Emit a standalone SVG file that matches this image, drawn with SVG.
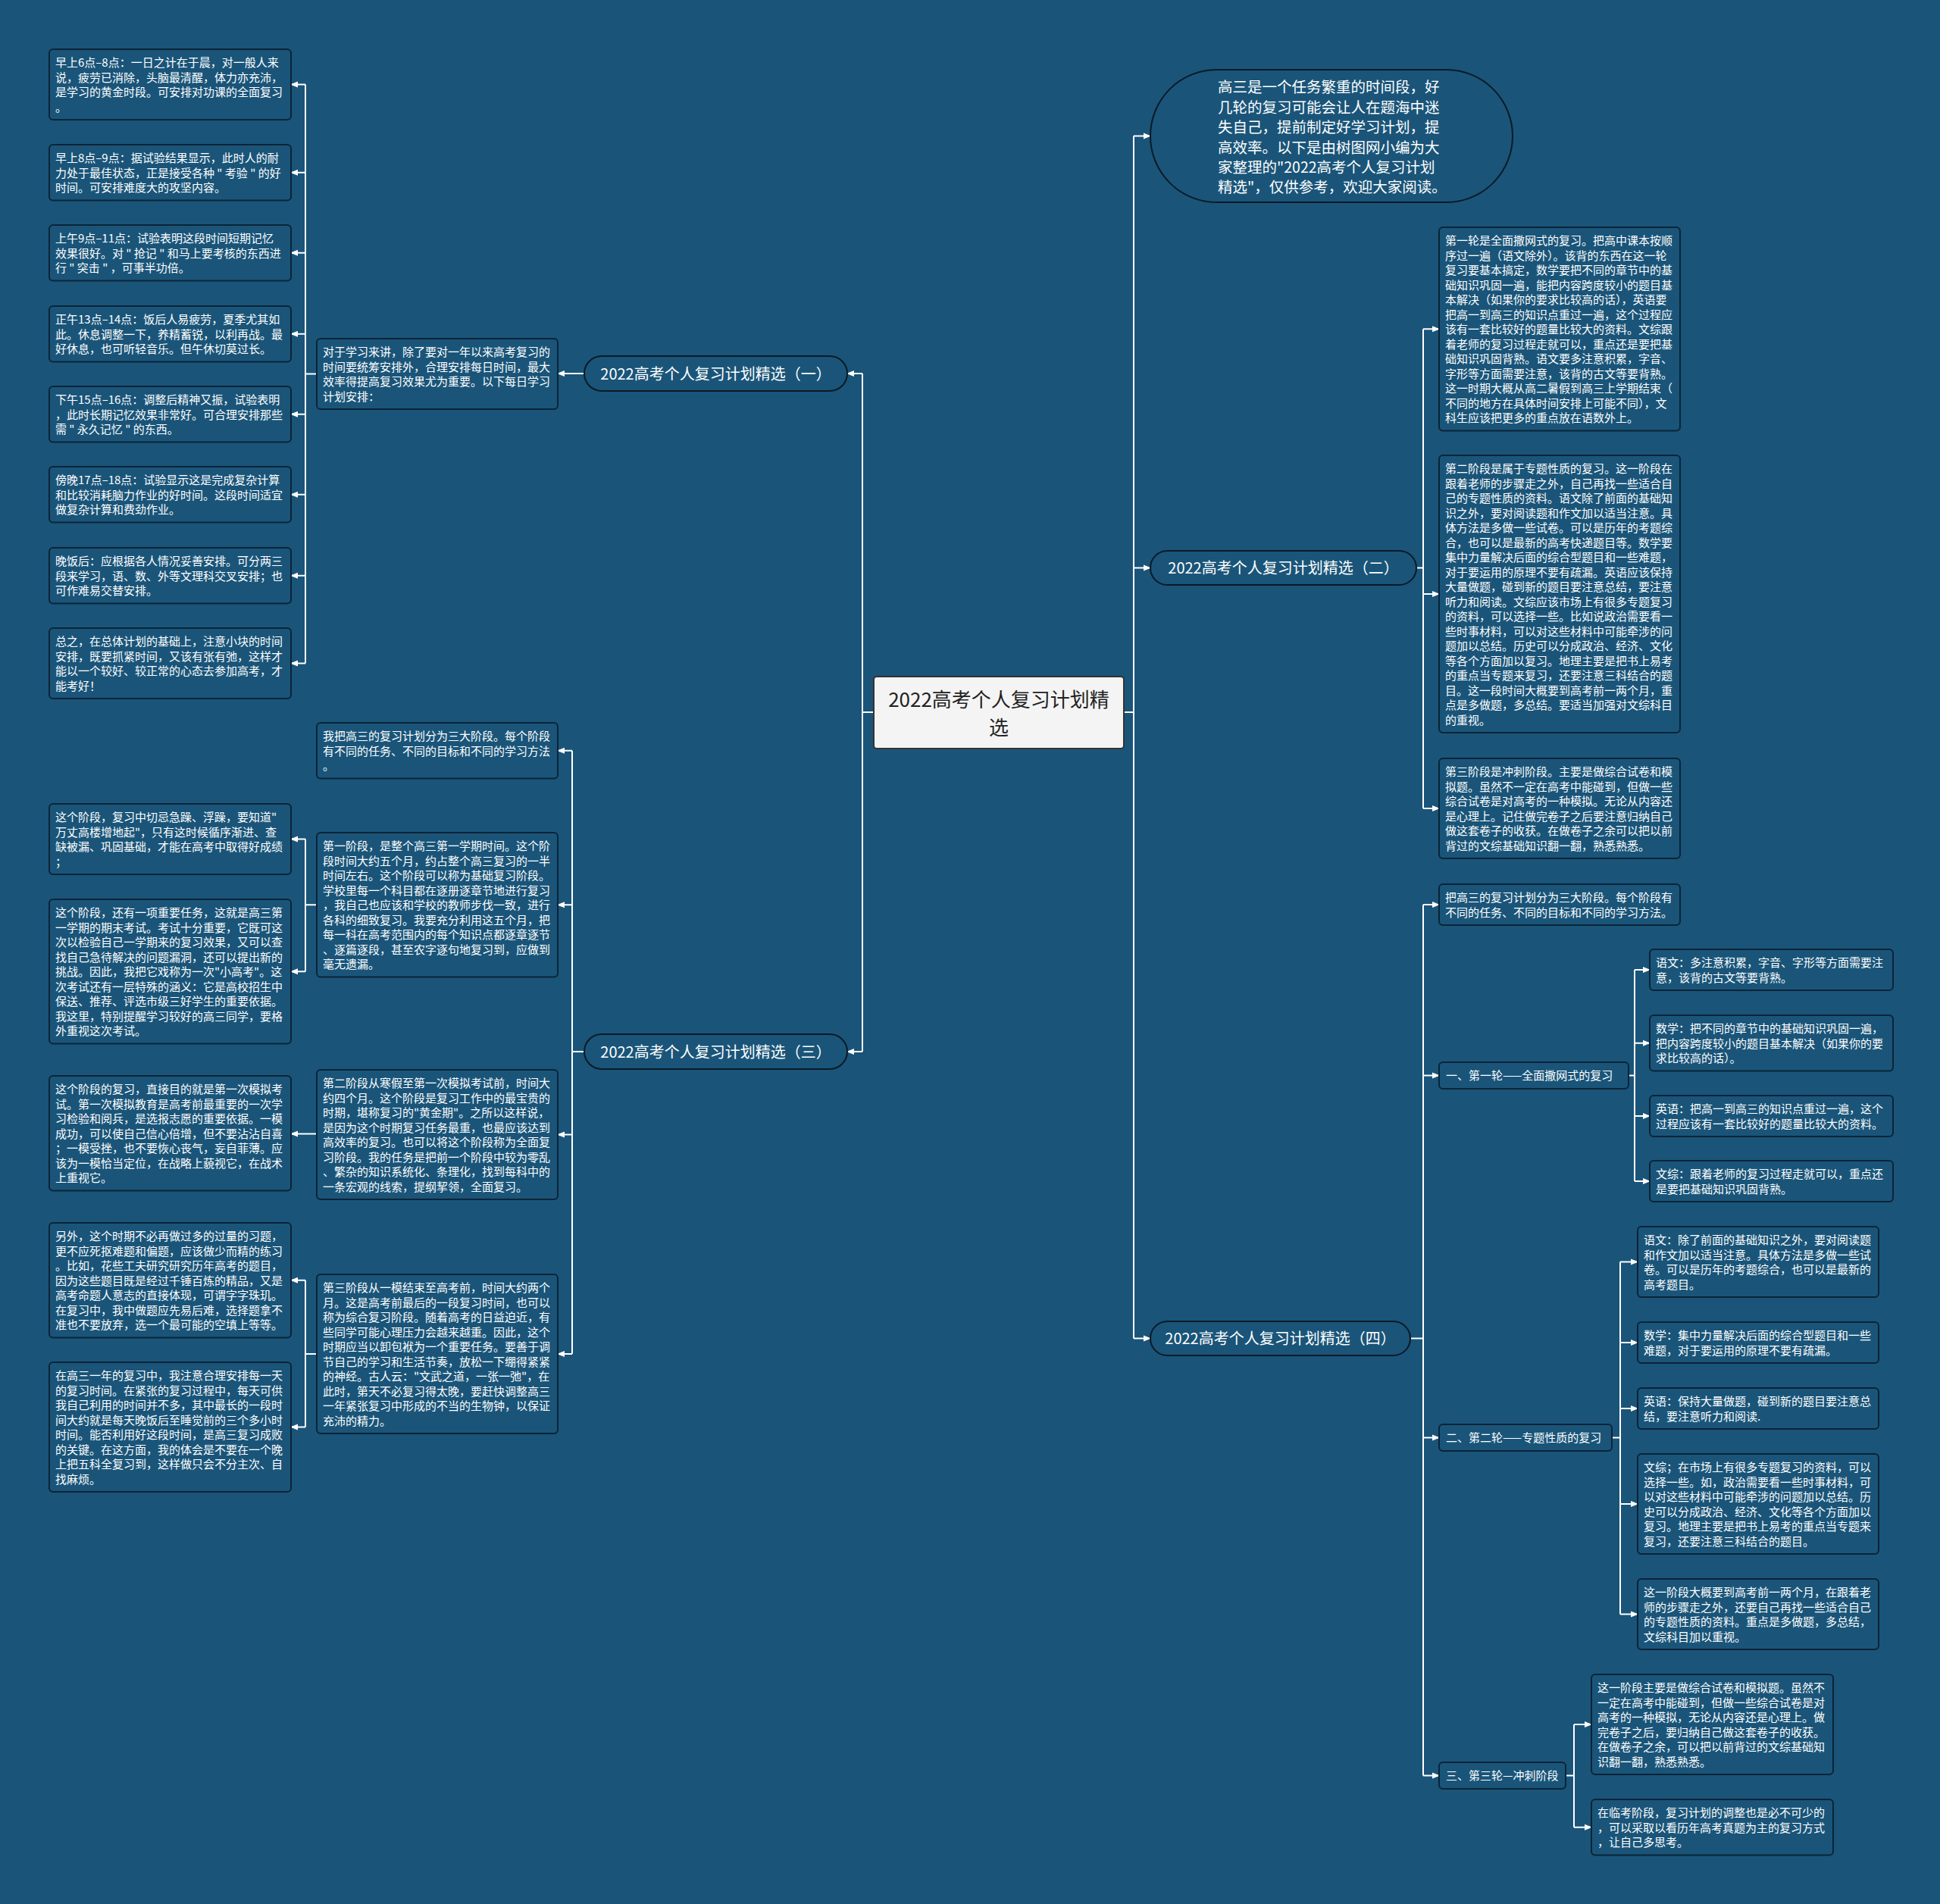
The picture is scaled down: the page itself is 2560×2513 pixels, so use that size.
<svg xmlns="http://www.w3.org/2000/svg" width="2560" height="2513" viewBox="0 0 2560 2513">
<defs>
<marker id="ah" markerWidth="10" markerHeight="10" refX="9" refY="5" orient="auto" markerUnits="userSpaceOnUse"><path d="M0,1 L10,5 L0,9 Z" fill="#ffffff"/></marker>
<style>
text{font-family:"Noto Sans CJK SC","Liberation Sans",sans-serif;fill:#ffffff;}
.lf{font-size:15px;}
.l1{font-size:20px;}
.box{fill:#1a5579;stroke:#0b2437;stroke-width:2;}
.pill{fill:#1a5579;stroke:#0b1a26;stroke-width:2;}
.cn{fill:#f4f4f4;stroke:#333333;stroke-width:2;}
.ct{font-size:26px;fill:#222222;}
.ln{fill:none;stroke:#ffffff;stroke-width:2;}
.ar{fill:none;stroke:#ffffff;stroke-width:2;marker-end:url(#ah);}
</style>
</defs>
<rect width="2560" height="2513" fill="#1a5479"/>

<g id="connectors">
<path class="ln" d="M1153 940 H1138 M1138 493 V1388"/>
<path class="ar" d="M1138 493 H1118"/>
<path class="ar" d="M1138 1388 H1118"/>
<path class="ln" d="M1483 940 H1496 M1496 179.5 V1766.5"/>
<path class="ar" d="M1496 179.5 H1518"/>
<path class="ar" d="M1496 749.5 H1518"/>
<path class="ar" d="M1496 1766.5 H1518"/>
<path class="ar" d="M771 493 H736"/>
<path class="ln" d="M418 493.5 H403 M403 111.5 V875.5"/>
<path class="ar" d="M403 111.5 H384"/>
<path class="ar" d="M403 227.75 H384"/>
<path class="ar" d="M403 333.75 H384"/>
<path class="ar" d="M403 440.75 H384"/>
<path class="ar" d="M403 546.75 H384"/>
<path class="ar" d="M403 652.75 H384"/>
<path class="ar" d="M403 759.75 H384"/>
<path class="ar" d="M403 875.5 H384"/>
<path class="ln" d="M771 1388 H755 M755 990.75 V1787"/>
<path class="ar" d="M755 990.75 H736"/>
<path class="ar" d="M755 1194.25 H736"/>
<path class="ar" d="M755 1497.5 H736"/>
<path class="ar" d="M755 1787 H736"/>
<path class="ln" d="M418 1194.25 H403 M403 1107.5 V1282.25"/>
<path class="ar" d="M403 1107.5 H384"/>
<path class="ar" d="M403 1282.25 H384"/>
<path class="ar" d="M418 1496.5 H384"/>
<path class="ln" d="M418 1787 H403 M403 1689.75 V1883.5"/>
<path class="ar" d="M403 1689.75 H384"/>
<path class="ar" d="M403 1883.5 H384"/>
<path class="ln" d="M1869 749.5 H1878 M1878 434.25 V1067"/>
<path class="ar" d="M1878 434.25 H1899"/>
<path class="ar" d="M1878 784 H1899"/>
<path class="ar" d="M1878 1067 H1899"/>
<path class="ln" d="M1861 1766.5 H1878 M1878 1194 V2343.5"/>
<path class="ar" d="M1878 1194 H1899"/>
<path class="ar" d="M1878 1419.5 H1899"/>
<path class="ar" d="M1878 1897.5 H1899"/>
<path class="ar" d="M1878 2343.5 H1899"/>
<path class="ln" d="M2149 1419.5 H2157 M2157 1280 V1559"/>
<path class="ar" d="M2157 1280 H2177"/>
<path class="ar" d="M2157 1376.75 H2177"/>
<path class="ar" d="M2157 1473 H2177"/>
<path class="ar" d="M2157 1559 H2177"/>
<path class="ln" d="M2127 1897.5 H2138 M2138 1665.5 V2130.5"/>
<path class="ar" d="M2138 1665.5 H2161"/>
<path class="ar" d="M2138 1772 H2161"/>
<path class="ar" d="M2138 1859 H2161"/>
<path class="ar" d="M2138 1985 H2161"/>
<path class="ar" d="M2138 2130.5 H2161"/>
<path class="ln" d="M2066 2343.5 H2077 M2077 2276 V2411.75"/>
<path class="ar" d="M2077 2276 H2100"/>
<path class="ar" d="M2077 2411.75 H2100"/>
</g>

<g id="center">
<rect class="cn" x="1153" y="893" width="330" height="95" rx="4"/>
<text class="ct" text-anchor="middle"><tspan x="1318" y="933">2022高考个人复习计划精</tspan><tspan x="1318" y="970">选</tspan></text>
</g>

<g id="b1">
<rect class="pill" x="771" y="470" width="347" height="46" rx="23"/>
<text class="l1" x="944.5" y="500.5" text-anchor="middle">2022高考个人复习计划精选（一）</text>
</g>
<g id="b3">
<rect class="pill" x="771" y="1365" width="347" height="46" rx="23"/>
<text class="l1" x="944.5" y="1395.5" text-anchor="middle">2022高考个人复习计划精选（三）</text>
</g>
<g id="b2">
<rect class="pill" x="1518" y="727" width="351" height="45" rx="22.5"/>
<text class="l1" x="1693.5" y="757" text-anchor="middle">2022高考个人复习计划精选（二）</text>
</g>
<g id="b4">
<rect class="pill" x="1518" y="1744" width="343" height="45" rx="22.5"/>
<text class="l1" x="1689.5" y="1774" text-anchor="middle">2022高考个人复习计划精选（四）</text>
</g>
<g id="intro">
<rect class="pill" x="1518" y="92" width="478" height="175" rx="87.5"/>
<text style="font-size:19.5px"><tspan x="1607" y="122.4">高三是一个任务繁重的时间段，好</tspan><tspan x="1607" y="148.8">几轮的复习可能会让人在题海中迷</tspan><tspan x="1607" y="175.2">失自己，提前制定好学习计划，提</tspan><tspan x="1607" y="201.6">高效率。以下是由树图网小编为大</tspan><tspan x="1607" y="228">家整理的"2022高考个人复习计划</tspan><tspan x="1607" y="254.4">精选"，仅供参考，欢迎大家阅读。</tspan></text>
</g>

<g id="summary1">
<rect class="box" x="418" y="447" width="318" height="93" rx="5"/>
<text class="lf"><tspan x="426" y="470">对于学习来讲，除了要对一年以来高考复习的</tspan><tspan x="426" y="489.5">时间要统筹安排外，合理安排每日时间，最大</tspan><tspan x="426" y="509">效率得提高复习效果尤为重要。以下每日学习</tspan><tspan x="426" y="528.5">计划安排：</tspan></text>
</g>

<g id="t1">
<rect class="box" x="65" y="65" width="319" height="93" rx="5"/>
<text class="lf"><tspan x="73" y="88">早上6点–8点：一日之计在于晨，对一般人来</tspan><tspan x="73" y="107.5">说，疲劳已消除，头脑最清醒，体力亦充沛，</tspan><tspan x="73" y="127">是学习的黄金时段。可安排对功课的全面复习</tspan><tspan x="73" y="146.5">。</tspan></text>
</g>
<g id="t2">
<rect class="box" x="65" y="191" width="319" height="73.5" rx="5"/>
<text class="lf"><tspan x="73" y="214">早上8点–9点：据试验结果显示，此时人的耐</tspan><tspan x="73" y="233.5">力处于最佳状态，正是接受各种 " 考验 " 的好</tspan><tspan x="73" y="253">时间。可安排难度大的攻坚内容。</tspan></text>
</g>
<g id="t3">
<rect class="box" x="65" y="297" width="319" height="73.5" rx="5"/>
<text class="lf"><tspan x="73" y="320">上午9点–11点：试验表明这段时间短期记忆</tspan><tspan x="73" y="339.5">效果很好。对 " 抢记 " 和马上要考核的东西进</tspan><tspan x="73" y="359">行 " 突击 " ，可事半功倍。</tspan></text>
</g>
<g id="t4">
<rect class="box" x="65" y="404" width="319" height="73.5" rx="5"/>
<text class="lf"><tspan x="73" y="427">正午13点–14点：饭后人易疲劳，夏季尤其如</tspan><tspan x="73" y="446.5">此。休息调整一下，养精蓄锐，以利再战。最</tspan><tspan x="73" y="466">好休息，也可听轻音乐。但午休切莫过长。</tspan></text>
</g>
<g id="t5">
<rect class="box" x="65" y="510" width="319" height="73.5" rx="5"/>
<text class="lf"><tspan x="73" y="533">下午15点–16点：调整后精神又振，试验表明</tspan><tspan x="73" y="552.5">，此时长期记忆效果非常好。可合理安排那些</tspan><tspan x="73" y="572">需 " 永久记忆 " 的东西。</tspan></text>
</g>
<g id="t6">
<rect class="box" x="65" y="616" width="319" height="73.5" rx="5"/>
<text class="lf"><tspan x="73" y="639">傍晚17点–18点：试验显示这是完成复杂计算</tspan><tspan x="73" y="658.5">和比较消耗脑力作业的好时间。这段时间适宜</tspan><tspan x="73" y="678">做复杂计算和费劲作业。</tspan></text>
</g>
<g id="t7">
<rect class="box" x="65" y="723" width="319" height="73.5" rx="5"/>
<text class="lf"><tspan x="73" y="746">晚饭后：应根据各人情况妥善安排。可分两三</tspan><tspan x="73" y="765.5">段来学习，语、数、外等文理科交叉安排；也</tspan><tspan x="73" y="785">可作难易交替安排。</tspan></text>
</g>
<g id="t8">
<rect class="box" x="65" y="829" width="319" height="93" rx="5"/>
<text class="lf"><tspan x="73" y="852">总之，在总体计划的基础上，注意小块的时间</tspan><tspan x="73" y="871.5">安排，既要抓紧时间，又该有张有弛，这样才</tspan><tspan x="73" y="891">能以一个较好、较正常的心态去参加高考，才</tspan><tspan x="73" y="910.5">能考好！</tspan></text>
</g>

<g id="s0">
<rect class="box" x="418" y="954" width="318" height="73.5" rx="5"/>
<text class="lf"><tspan x="426" y="977">我把高三的复习计划分为三大阶段。每个阶段</tspan><tspan x="426" y="996.5">有不同的任务、不同的目标和不同的学习方法</tspan><tspan x="426" y="1016">。</tspan></text>
</g>
<g id="s1">
<rect class="box" x="418" y="1099" width="318" height="190.5" rx="5"/>
<text class="lf"><tspan x="426" y="1122">第一阶段，是整个高三第一学期时间。这个阶</tspan><tspan x="426" y="1141.5">段时间大约五个月，约占整个高三复习的一半</tspan><tspan x="426" y="1161">时间左右。这个阶段可以称为基础复习阶段。</tspan><tspan x="426" y="1180.5">学校里每一个科目都在逐册逐章节地进行复习</tspan><tspan x="426" y="1200">，我自己也应该和学校的教师步伐一致，进行</tspan><tspan x="426" y="1219.5">各科的细致复习。我要充分利用这五个月，把</tspan><tspan x="426" y="1239">每一科在高考范围内的每个知识点都逐章逐节</tspan><tspan x="426" y="1258.5">、逐篇逐段，甚至农字逐句地复习到，应做到</tspan><tspan x="426" y="1278">毫无遗漏。</tspan></text>
</g>
<g id="s2">
<rect class="box" x="418" y="1412" width="318" height="171" rx="5"/>
<text class="lf"><tspan x="426" y="1435">第二阶段从寒假至第一次模拟考试前，时间大</tspan><tspan x="426" y="1454.5">约四个月。这个阶段是复习工作中的最宝贵的</tspan><tspan x="426" y="1474">时期，堪称复习的"黄金期"。之所以这样说，</tspan><tspan x="426" y="1493.5">是因为这个时期复习任务最重，也最应该达到</tspan><tspan x="426" y="1513">高效率的复习。也可以将这个阶段称为全面复</tspan><tspan x="426" y="1532.5">习阶段。我的任务是把前一个阶段中较为零乱</tspan><tspan x="426" y="1552">、繁杂的知识系统化、条理化，找到每科中的</tspan><tspan x="426" y="1571.5">一条宏观的线索，提纲挈领，全面复习。</tspan></text>
</g>
<g id="s3">
<rect class="box" x="418" y="1682" width="318" height="210" rx="5"/>
<text class="lf"><tspan x="426" y="1705">第三阶段从一模结束至高考前，时间大约两个</tspan><tspan x="426" y="1724.5">月。这是高考前最后的一段复习时间，也可以</tspan><tspan x="426" y="1744">称为综合复习阶段。随着高考的日益迫近，有</tspan><tspan x="426" y="1763.5">些同学可能心理压力会越来越重。因此，这个</tspan><tspan x="426" y="1783">时期应当以卸包袱为一个重要任务。要善于调</tspan><tspan x="426" y="1802.5">节自己的学习和生活节奏，放松一下绷得紧紧</tspan><tspan x="426" y="1822">的神经。古人云："文武之道，一张一弛"，在</tspan><tspan x="426" y="1841.5">此时，第天不必复习得太晚，要赶快调整高三</tspan><tspan x="426" y="1861">一年紧张复习中形成的不当的生物钟，以保证</tspan><tspan x="426" y="1880.5">充沛的精力。</tspan></text>
</g>

<g id="u1">
<rect class="box" x="65" y="1061" width="319" height="93" rx="5"/>
<text class="lf"><tspan x="73" y="1084">这个阶段，复习中切忌急躁、浮躁，要知道"</tspan><tspan x="73" y="1103.5">万丈高楼增地起"，只有这时候循序渐进、查</tspan><tspan x="73" y="1123">缺被漏、巩固基础，才能在高考中取得好成绩</tspan><tspan x="73" y="1142.5">；</tspan></text>
</g>
<g id="u2">
<rect class="box" x="65" y="1187" width="319" height="190.5" rx="5"/>
<text class="lf"><tspan x="73" y="1210">这个阶段，还有一项重要任务，这就是高三第</tspan><tspan x="73" y="1229.5">一学期的期末考试。考试十分重要，它既可这</tspan><tspan x="73" y="1249">次以检验自己一学期来的复习效果，又可以查</tspan><tspan x="73" y="1268.5">找自己急待解决的问题漏洞，还可以提出新的</tspan><tspan x="73" y="1288">挑战。因此，我把它戏称为一次"小高考"。这</tspan><tspan x="73" y="1307.5">次考试还有一层特殊的涵义：它是高校招生中</tspan><tspan x="73" y="1327">保送、推荐、评选市级三好学生的重要依据。</tspan><tspan x="73" y="1346.5">我这里，特别提醒学习较好的高三同学，要格</tspan><tspan x="73" y="1366">外重视这次考试。</tspan></text>
</g>
<g id="u3">
<rect class="box" x="65" y="1420" width="319" height="151.5" rx="5"/>
<text class="lf"><tspan x="73" y="1443">这个阶段的复习，直接目的就是第一次模拟考</tspan><tspan x="73" y="1462.5">试。第一次模拟教育是高考前最重要的一次学</tspan><tspan x="73" y="1482">习检验和阅兵，是选报志愿的重要依据。一模</tspan><tspan x="73" y="1501.5">成功，可以使自己信心倍增，但不要沾沾自喜</tspan><tspan x="73" y="1521">；一模受挫，也不要恢心丧气，妄自菲薄。应</tspan><tspan x="73" y="1540.5">该为一模恰当定位，在战略上藐视它，在战术</tspan><tspan x="73" y="1560">上重视它。</tspan></text>
</g>
<g id="u4">
<rect class="box" x="65" y="1614" width="319" height="151.5" rx="5"/>
<text class="lf"><tspan x="73" y="1637">另外，这个时期不必再做过多的过量的习题，</tspan><tspan x="73" y="1656.5">更不应死抠难题和偏题，应该做少而精的练习</tspan><tspan x="73" y="1676">。比如，花些工夫研究研究历年高考的题目，</tspan><tspan x="73" y="1695.5">因为这些题目既是经过千锤百炼的精品，又是</tspan><tspan x="73" y="1715">高考命题人意志的直接体现，可谓字字珠玑。</tspan><tspan x="73" y="1734.5">在复习中，我中做题应先易后难，选择题拿不</tspan><tspan x="73" y="1754">准也不要放弃，选一个最可能的空填上等等。</tspan></text>
</g>
<g id="u5">
<rect class="box" x="65" y="1798" width="319" height="171" rx="5"/>
<text class="lf"><tspan x="73" y="1821">在高三一年的复习中，我注意合理安排每一天</tspan><tspan x="73" y="1840.5">的复习时间。在紧张的复习过程中，每天可供</tspan><tspan x="73" y="1860">我自己利用的时间并不多，其中最长的一段时</tspan><tspan x="73" y="1879.5">间大约就是每天晚饭后至睡觉前的三个多小时</tspan><tspan x="73" y="1899">时间。能否利用好这段时间，是高三复习成败</tspan><tspan x="73" y="1918.5">的关键。在这方面，我的体会是不要在一个晚</tspan><tspan x="73" y="1938">上把五科全复习到，这样做只会不分主次、自</tspan><tspan x="73" y="1957.5">找麻烦。</tspan></text>
</g>

<g id="r1">
<rect class="box" x="1899" y="300" width="318" height="268.5" rx="5"/>
<text class="lf"><tspan x="1907" y="323">第一轮是全面撒网式的复习。把高中课本按顺</tspan><tspan x="1907" y="342.5">序过一遍（语文除外）。该背的东西在这一轮</tspan><tspan x="1907" y="362">复习要基本搞定，数学要把不同的章节中的基</tspan><tspan x="1907" y="381.5">础知识巩固一遍，能把内容跨度较小的题目基</tspan><tspan x="1907" y="401">本解决（如果你的要求比较高的话），英语要</tspan><tspan x="1907" y="420.5">把高一到高三的知识点重过一遍，这个过程应</tspan><tspan x="1907" y="440">该有一套比较好的题量比较大的资料。文综跟</tspan><tspan x="1907" y="459.5">着老师的复习过程走就可以，重点还是要把基</tspan><tspan x="1907" y="479">础知识巩固背熟。语文要多注意积累，字音、</tspan><tspan x="1907" y="498.5">字形等方面需要注意，该背的古文等要背熟。</tspan><tspan x="1907" y="518">这一时期大概从高二暑假到高三上学期结束（</tspan><tspan x="1907" y="537.5">不同的地方在具体时间安排上可能不同），文</tspan><tspan x="1907" y="557">科生应该把更多的重点放在语数外上。</tspan></text>
</g>
<g id="r2">
<rect class="box" x="1899" y="601" width="318" height="366" rx="5"/>
<text class="lf"><tspan x="1907" y="624">第二阶段是属于专题性质的复习。这一阶段在</tspan><tspan x="1907" y="643.5">跟着老师的步骤走之外，自己再找一些适合自</tspan><tspan x="1907" y="663">己的专题性质的资料。语文除了前面的基础知</tspan><tspan x="1907" y="682.5">识之外，要对阅读题和作文加以适当注意。具</tspan><tspan x="1907" y="702">体方法是多做一些试卷。可以是历年的考题综</tspan><tspan x="1907" y="721.5">合，也可以是最新的高考快递题目等。数学要</tspan><tspan x="1907" y="741">集中力量解决后面的综合型题目和一些难题，</tspan><tspan x="1907" y="760.5">对于要运用的原理不要有疏漏。英语应该保持</tspan><tspan x="1907" y="780">大量做题，碰到新的题目要注意总结，要注意</tspan><tspan x="1907" y="799.5">听力和阅读。文综应该市场上有很多专题复习</tspan><tspan x="1907" y="819">的资料，可以选择一些。比如说政治需要看一</tspan><tspan x="1907" y="838.5">些时事材料，可以对这些材料中可能牵涉的问</tspan><tspan x="1907" y="858">题加以总结。历史可以分成政治、经济、文化</tspan><tspan x="1907" y="877.5">等各个方面加以复习。地理主要是把书上易考</tspan><tspan x="1907" y="897">的重点当专题来复习，还要注意三科结合的题</tspan><tspan x="1907" y="916.5">目。这一段时间大概要到高考前一两个月，重</tspan><tspan x="1907" y="936">点是多做题，多总结。要适当加强对文综科目</tspan><tspan x="1907" y="955.5">的重视。</tspan></text>
</g>
<g id="r3">
<rect class="box" x="1899" y="1001" width="318" height="132" rx="5"/>
<text class="lf"><tspan x="1907" y="1024">第三阶段是冲刺阶段。主要是做综合试卷和模</tspan><tspan x="1907" y="1043.5">拟题。虽然不一定在高考中能碰到，但做一些</tspan><tspan x="1907" y="1063">综合试卷是对高考的一种模拟。无论从内容还</tspan><tspan x="1907" y="1082.5">是心理上。记住做完卷子之后要注意归纳自己</tspan><tspan x="1907" y="1102">做这套卷子的收获。在做卷子之余可以把以前</tspan><tspan x="1907" y="1121.5">背过的文综基础知识翻一翻，熟悉熟悉。</tspan></text>
</g>

<g id="q0">
<rect class="box" x="1899" y="1167" width="318" height="54" rx="5"/>
<text class="lf"><tspan x="1907" y="1190">把高三的复习计划分为三大阶段。每个阶段有</tspan><tspan x="1907" y="1209.5">不同的任务、不同的目标和不同的学习方法。</tspan></text>
</g>
<g id="q1">
<rect class="box" x="1899" y="1402" width="250" height="35" rx="5"/>
<text class="lf" x="1908" y="1425">一、第一轮——全面撒网式的复习</text>
</g>
<g id="q2">
<rect class="box" x="1899" y="1880" width="228" height="35" rx="5"/>
<text class="lf" x="1908" y="1903">二、第二轮——专题性质的复习</text>
</g>
<g id="q3">
<rect class="box" x="1899" y="2326" width="167" height="35" rx="5"/>
<text class="lf" x="1908" y="2349">三、第三轮—冲刺阶段</text>
</g>

<g id="q1a">
<rect class="box" x="2177" y="1253" width="321" height="54" rx="5"/>
<text class="lf"><tspan x="2185" y="1276">语文：多注意积累，字音、字形等方面需要注</tspan><tspan x="2185" y="1295.5">意，该背的古文等要背熟。</tspan></text>
</g>
<g id="q1b">
<rect class="box" x="2177" y="1340" width="321" height="73.5" rx="5"/>
<text class="lf"><tspan x="2185" y="1363">数学：把不同的章节中的基础知识巩固一遍，</tspan><tspan x="2185" y="1382.5">把内容跨度较小的题目基本解决（如果你的要</tspan><tspan x="2185" y="1402">求比较高的话）。</tspan></text>
</g>
<g id="q1c">
<rect class="box" x="2177" y="1446" width="321" height="54" rx="5"/>
<text class="lf"><tspan x="2185" y="1469">英语：把高一到高三的知识点重过一遍，这个</tspan><tspan x="2185" y="1488.5">过程应该有一套比较好的题量比较大的资料。</tspan></text>
</g>
<g id="q1d">
<rect class="box" x="2177" y="1532" width="321" height="54" rx="5"/>
<text class="lf"><tspan x="2185" y="1555">文综：跟着老师的复习过程走就可以，重点还</tspan><tspan x="2185" y="1574.5">是要把基础知识巩固背熟。</tspan></text>
</g>

<g id="q2a">
<rect class="box" x="2161" y="1619" width="318" height="93" rx="5"/>
<text class="lf"><tspan x="2169" y="1642">语文：除了前面的基础知识之外，要对阅读题</tspan><tspan x="2169" y="1661.5">和作文加以适当注意。具体方法是多做一些试</tspan><tspan x="2169" y="1681">卷。可以是历年的考题综合，也可以是最新的</tspan><tspan x="2169" y="1700.5">高考题目。</tspan></text>
</g>
<g id="q2b">
<rect class="box" x="2161" y="1745" width="318" height="54" rx="5"/>
<text class="lf"><tspan x="2169" y="1768">数学：集中力量解决后面的综合型题目和一些</tspan><tspan x="2169" y="1787.5">难题，对于要运用的原理不要有疏漏。</tspan></text>
</g>
<g id="q2c">
<rect class="box" x="2161" y="1832" width="318" height="54" rx="5"/>
<text class="lf"><tspan x="2169" y="1855">英语：保持大量做题，碰到新的题目要注意总</tspan><tspan x="2169" y="1874.5">结，要注意听力和阅读.</tspan></text>
</g>
<g id="q2d">
<rect class="box" x="2161" y="1919" width="318" height="132" rx="5"/>
<text class="lf"><tspan x="2169" y="1942">文综；在市场上有很多专题复习的资料，可以</tspan><tspan x="2169" y="1961.5">选择一些。如，政治需要看一些时事材料，可</tspan><tspan x="2169" y="1981">以对这些材料中可能牵涉的问题加以总结。历</tspan><tspan x="2169" y="2000.5">史可以分成政治、经济、文化等各个方面加以</tspan><tspan x="2169" y="2020">复习。地理主要是把书上易考的重点当专题来</tspan><tspan x="2169" y="2039.5">复习，还要注意三科结合的题目。</tspan></text>
</g>
<g id="q2e">
<rect class="box" x="2161" y="2084" width="318" height="93" rx="5"/>
<text class="lf"><tspan x="2169" y="2107">这一阶段大概要到高考前一两个月，在跟着老</tspan><tspan x="2169" y="2126.5">师的步骤走之外，还要自己再找一些适合自己</tspan><tspan x="2169" y="2146">的专题性质的资料。重点是多做题，多总结，</tspan><tspan x="2169" y="2165.5">文综科目加以重视。</tspan></text>
</g>

<g id="q3a">
<rect class="box" x="2100" y="2210" width="319" height="132" rx="5"/>
<text class="lf"><tspan x="2108" y="2233">这一阶段主要是做综合试卷和模拟题。虽然不</tspan><tspan x="2108" y="2252.5">一定在高考中能碰到，但做一些综合试卷是对</tspan><tspan x="2108" y="2272">高考的一种模拟，无论从内容还是心理上。做</tspan><tspan x="2108" y="2291.5">完卷子之后，要归纳自己做这套卷子的收获。</tspan><tspan x="2108" y="2311">在做卷子之余，可以把以前背过的文综基础知</tspan><tspan x="2108" y="2330.5">识翻一翻，熟悉熟悉。</tspan></text>
</g>
<g id="q3b">
<rect class="box" x="2100" y="2375" width="319" height="73.5" rx="5"/>
<text class="lf"><tspan x="2108" y="2398">在临考阶段，复习计划的调整也是必不可少的</tspan><tspan x="2108" y="2417.5">，可以采取以看历年高考真题为主的复习方式</tspan><tspan x="2108" y="2437">，让自己多思考。</tspan></text>
</g>
</svg>
